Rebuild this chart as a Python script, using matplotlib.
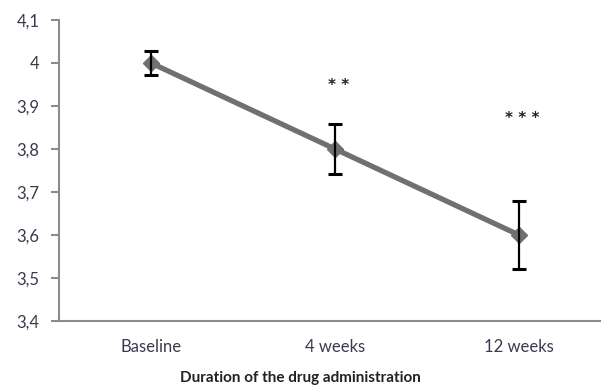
import matplotlib
matplotlib.use("Agg")
import matplotlib.pyplot as plt
from matplotlib.ticker import FuncFormatter

# Data for the chart
categories = ['Baseline', '4 weeks', '12 weeks']
means = [4.0, 3.8, 3.6]
errors = [0.028, 0.058, 0.078]
stars = ['', '**', '***']
star_y = [None, 3.953, 3.877]

plt.rcParams['font.family'] = ['Lato', 'DejaVu Sans']

fig = plt.figure(figsize=(6.01, 3.88), dpi=100)
ax = fig.add_axes([59 / 601, (388 - 321) / 388, 552 / 601, 301 / 388])

x = range(len(categories))
ax.plot(x, means, color='#707070', lw=3.8, marker='D', ms=8, zorder=2)
ax.errorbar(x, means, yerr=errors, fmt='none', ecolor='black', elinewidth=1.6,
            capsize=5, capthick=2.2, zorder=3)

for i, s in enumerate(stars):
    if s:
        ax.annotate(' '.join(s), (i + 0.02, star_y[i]), xytext=(0, -2),
                    textcoords='offset points', ha='center', va='center',
                    fontsize=11, fontweight='bold', family='DejaVu Sans',
                    color='#222222')

ax.set_xlim(-0.5, 2.5)
ax.set_ylim(3.4, 4.1)
ax.set_yticks([3.4, 3.5, 3.6, 3.7, 3.8, 3.9, 4.0, 4.1])
ax.yaxis.set_major_formatter(FuncFormatter(lambda v, p: f'{v:g}'.replace('.', ',')))
ax.set_xticks(list(x))
ax.set_xticklabels(categories)

for side in ['top', 'right']:
    ax.spines[side].set_visible(False)
for side in ['left', 'bottom']:
    ax.spines[side].set_color('#8c8c8c')
    ax.spines[side].set_linewidth(1.5)

ax.tick_params(axis='y', length=6, width=1.5, color='#8c8c8c', pad=8,
               labelsize=12, labelcolor='#3a3a50')
ax.tick_params(axis='x', length=0, pad=13, labelsize=12, labelcolor='#3a3a50')

fig.text(300 / 601, 1 - 378 / 388, 'Duration of the drug administration',
         ha='center', va='center', fontsize=11, fontweight='bold', color='#222222')

fig.savefig('out.png', dpi=100)
